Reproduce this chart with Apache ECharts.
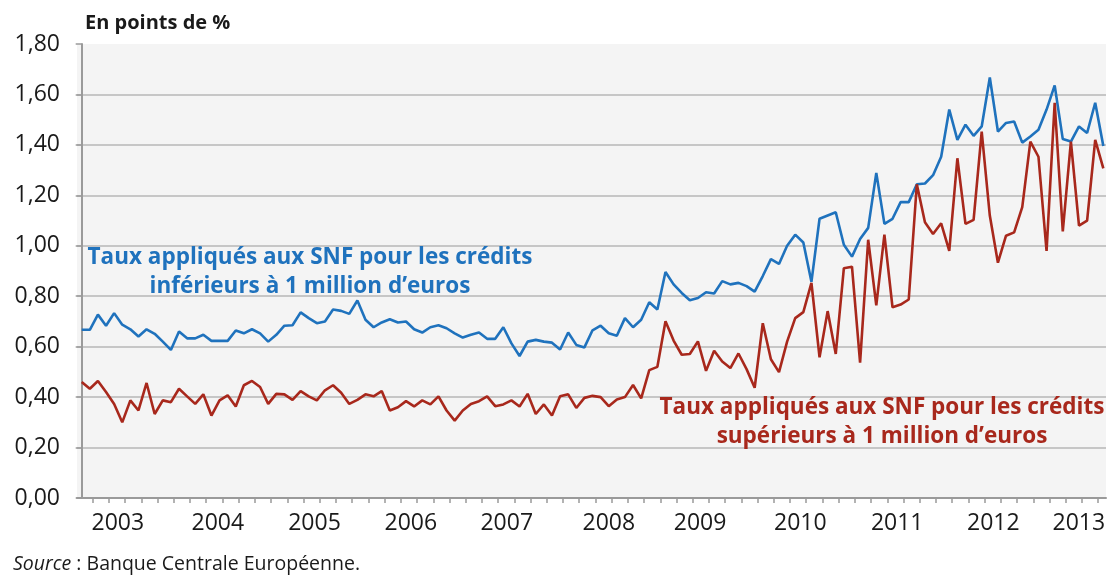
<!DOCTYPE html>
<html>
<head>
<meta charset="utf-8">
<script src="https://cdn.jsdelivr.net/npm/echarts@6/dist/echarts.min.js"></script>
<style>
html,body{margin:0;padding:0;background:#fff;}
#c{width:1109px;height:575px;}
</style>
</head>
<body>
<div id="c"></div>
<script>
// Monthly observations, Aug 2002 .. Feb 2013 (127 months)
const startYear = 2002, startMonth = 8, monthCount = 127;
const months = [];
for (let k = 0; k < monthCount; k++) {
  const m = startMonth - 1 + k;
  months.push((startYear + Math.floor(m / 12)) + '-' + String(m % 12 + 1).padStart(2, '0'));
}

// Taux appliqués aux SNF – crédits inférieurs à 1 million d'euros (blue)
const smallLoans = [
  0.667,0.667,0.727,0.683,0.733,0.687,0.669,0.640,0.669,0.651,
  0.620,0.587,0.660,0.633,0.633,0.647,0.623,0.623,0.623,0.664,
  0.653,0.669,0.653,0.620,0.647,0.683,0.685,0.736,0.713,0.693,
  0.700,0.747,0.742,0.730,0.783,0.707,0.677,0.696,0.709,0.696,
  0.700,0.669,0.656,0.677,0.685,0.673,0.653,0.636,0.647,0.656,
  0.631,0.631,0.677,0.613,0.563,0.620,0.627,0.620,0.616,0.589,
  0.656,0.607,0.597,0.665,0.683,0.653,0.643,0.713,0.677,0.707,
  0.776,0.747,0.896,0.847,0.813,0.784,0.793,0.816,0.811,0.860,
  0.847,0.853,0.840,0.818,0.880,0.947,0.928,1.000,1.044,1.013,
  0.857,1.107,1.120,1.133,1.004,0.957,1.027,1.071,1.289,1.087,
  1.107,1.173,1.173,1.244,1.247,1.280,1.353,1.540,1.420,1.480,
  1.436,1.473,1.667,1.453,1.487,1.493,1.409,1.433,1.460,1.540,
  1.636,1.423,1.413,1.473,1.447,1.567,1.396
];

// Taux appliqués aux SNF – crédits supérieurs à 1 million d'euros (red)
const largeLoans = [
  0.460,0.433,0.464,0.420,0.373,0.300,0.387,0.347,0.456,0.333,
  0.387,0.380,0.433,0.403,0.373,0.411,0.327,0.387,0.407,0.363,
  0.447,0.464,0.440,0.373,0.413,0.411,0.389,0.424,0.403,0.387,
  0.427,0.447,0.417,0.373,0.389,0.411,0.403,0.424,0.347,0.360,
  0.384,0.363,0.387,0.371,0.403,0.347,0.307,0.347,0.373,0.384,
  0.403,0.364,0.371,0.387,0.363,0.413,0.333,0.371,0.327,0.403,
  0.411,0.357,0.397,0.405,0.400,0.364,0.391,0.400,0.448,0.395,
  0.507,0.520,0.701,0.624,0.568,0.571,0.621,0.504,0.584,0.541,
  0.515,0.573,0.511,0.437,0.693,0.550,0.499,0.620,0.713,0.737,
  0.853,0.558,0.741,0.571,0.911,0.917,0.537,1.024,0.764,1.044,
  0.756,0.767,0.787,1.244,1.093,1.047,1.089,0.980,1.347,1.087,
  1.103,1.453,1.120,0.933,1.040,1.053,1.153,1.413,1.353,0.980,
  1.567,1.057,1.413,1.080,1.100,1.420,1.307
];

// X-axis year labels and their positions (in months from Aug 2002)
const yearLabels = ['2003','2004','2005','2006','2007','2008','2009','2010','2011','2012','2013'];
const yearLabelPos = [4.45,16.79,28.71,40.59,52.42,65.01,76.26,88.63,100.58,112.43,122.98];
// minor ticks every two months
const tickPos = [];
for (let t = 1.36; t <= 126; t += 2) tickPos.push(+t.toFixed(2));

const blue = '#1f72bd';
const red = '#a8281c';
const font = '"Open Sans", "Noto Sans", sans-serif';

const chart = echarts.init(document.getElementById('c'), null, {renderer: 'canvas'});
chart.setOption({
  animation: false,
  backgroundColor: '#ffffff',
  textStyle: {fontFamily: font},
  title: [
    {text: 'En points de %', left: 80, top: 8,
     textStyle: {fontFamily: font, fontSize: 20, fontWeight: 'bold', color: '#1a1a1a'}},
    {text: 'Taux appliqués aux SNF pour les crédits\ninférieurs à 1 million d’euros',
     left: 305, top: 238, textAlign: 'center',
     textStyle: {fontFamily: font, fontSize: 22.5, fontWeight: 'bold', color: blue, lineHeight: 29, align: 'center'}},
    {text: 'Taux appliqués aux SNF pour les crédits\nsupérieurs à 1 million d’euros',
     left: 877, top: 388, textAlign: 'center',
     textStyle: {fontFamily: font, fontSize: 22.5, fontWeight: 'bold', color: red, lineHeight: 29, align: 'center'}},
    {text: '{i|Source} : Banque Centrale Européenne.', left: 8, top: 549,
     textStyle: {fontFamily: font, fontSize: 19.5, fontWeight: 'normal', color: '#1a1a1a',
       rich: {i: {fontFamily: font, fontSize: 19.5, fontWeight: 'normal', fontStyle: 'italic', color: '#1a1a1a'}}}}
  ],
  grid: {left: 77, right: 3, top: 44, bottom: 77, show: true,
         backgroundColor: '#f4f4f4', borderWidth: 0, containLabel: false, outerBoundsMode: 'none'},
  xAxis: {
    type: 'value', min: -0.58, max: 126.33,
    axisLine: {show: true, lineStyle: {color: '#9a9a9a', width: 2}},
    axisTick: {show: true, customValues: tickPos, length: 5, lineStyle: {color: '#9a9a9a', width: 1.5}},
    axisLabel: {show: true, customValues: yearLabelPos, margin: 14,
      fontFamily: font, fontSize: 23, color: '#1a1a1a',
      formatter: function (v) {
        for (let k = 0; k < yearLabelPos.length; k++) if (Math.abs(yearLabelPos[k] - v) < 1e-6) return yearLabels[k];
        return '';
      }},
    splitLine: {show: false}
  },
  yAxis: {
    type: 'value', min: 0, max: 1.8, interval: 0.2,
    axisLine: {show: true, lineStyle: {color: '#9a9a9a', width: 2}},
    axisTick: {show: true, length: 6, lineStyle: {color: '#9a9a9a', width: 1.5}},
    axisLabel: {margin: 17, fontFamily: font, fontSize: 23, color: '#1a1a1a', padding: [0, 0, 10, 0],
      formatter: function (v) { return v.toFixed(2).replace('.', ','); }},
    splitLine: {show: true, lineStyle: {color: ['#c6c6c6','#c6c6c6','#c6c6c6','#c6c6c6','#c6c6c6','#c6c6c6','#c6c6c6','#c6c6c6','#c6c6c6','rgba(0,0,0,0)'], width: 2}}
  },
  series: [
    {name: 'inférieurs', type: 'line', showSymbol: false, symbol: 'none',
     data: smallLoans.map((v, k) => [k, v]),
     lineStyle: {color: blue, width: 2.6}, itemStyle: {color: blue}, z: 3},
    {name: 'supérieurs', type: 'line', showSymbol: false, symbol: 'none',
     data: largeLoans.map((v, k) => [k, v]),
     lineStyle: {color: red, width: 2.6}, itemStyle: {color: red}, z: 4}
  ]
});
</script>
</body>
</html>
